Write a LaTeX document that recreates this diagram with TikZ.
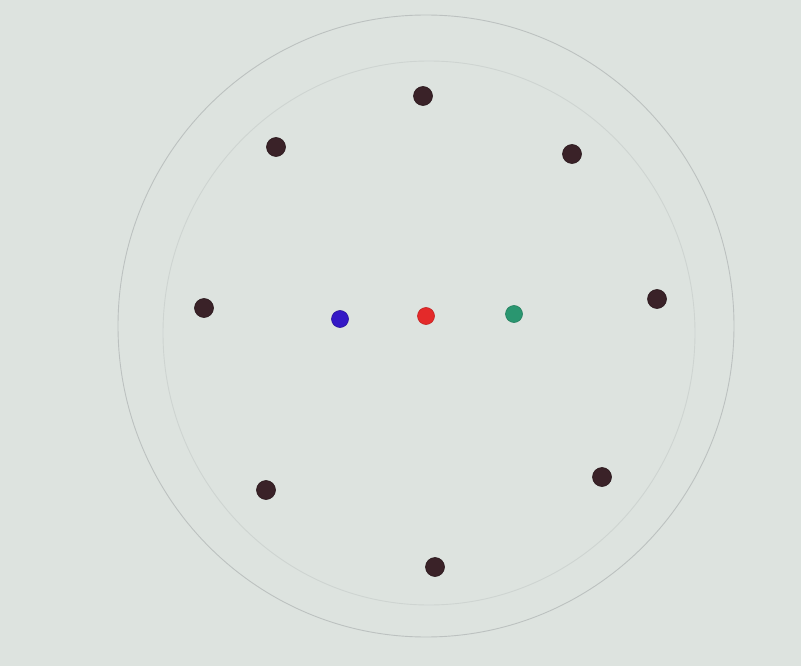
\documentclass[tikz,border=0pt]{standalone}
\usetikzlibrary{positioning}
\definecolor{paper}{RGB}{221,227,223}
\definecolor{pencil}{RGB}{188,193,192}
\definecolor{bead}{RGB}{58,34,40}
\definecolor{beadblue}{RGB}{52,24,198}
\definecolor{beadred}{RGB}{228,42,42}
\definecolor{beadgreen}{RGB}{42,150,112}
\begin{document}
\begin{tikzpicture}[
  x=1pt, y=-1pt,
  ring/.style={draw=pencil, line width=0.9pt},
  pin/.style={circle, fill=bead, draw=bead!70!black, line width=0.6pt, minimum size=19pt, inner sep=0pt},
  tip/.style={circle, minimum size=17pt, inner sep=0pt, line width=0.6pt}
]
\fill[paper] (0,0) rectangle (801,666);
\useasboundingbox (0,0) rectangle (801,666);
% pencil circles
\draw[ring] (426,326) ellipse [x radius=308, y radius=311];
\draw[ring, draw=pencil!45!paper] (429,333) ellipse [x radius=266, y radius=272];
% outer beads
\node[pin] (n) at (423,96) {};
\node[pin] (nw) at (276,147) {};
\node[pin] (ne) at (572,154) {};
\node[pin] (w) at (204,308) {};
\node[pin] (e) at (657,299) {};
\node[pin] (sw) at (266,490) {};
\node[pin] (se) at (602,477) {};
\node[pin] (s) at (435,567) {};
% centre beads
\node[tip, fill=beadblue, draw=beadblue!80!black] (blue) at (340,319) {};
\node[tip, fill=beadred, draw=beadred!85!black] (red) at (426,316) {};
\node[tip, fill=beadgreen, draw=beadgreen!85!black] (green) at (514,314) {};
\end{tikzpicture}
\end{document}
